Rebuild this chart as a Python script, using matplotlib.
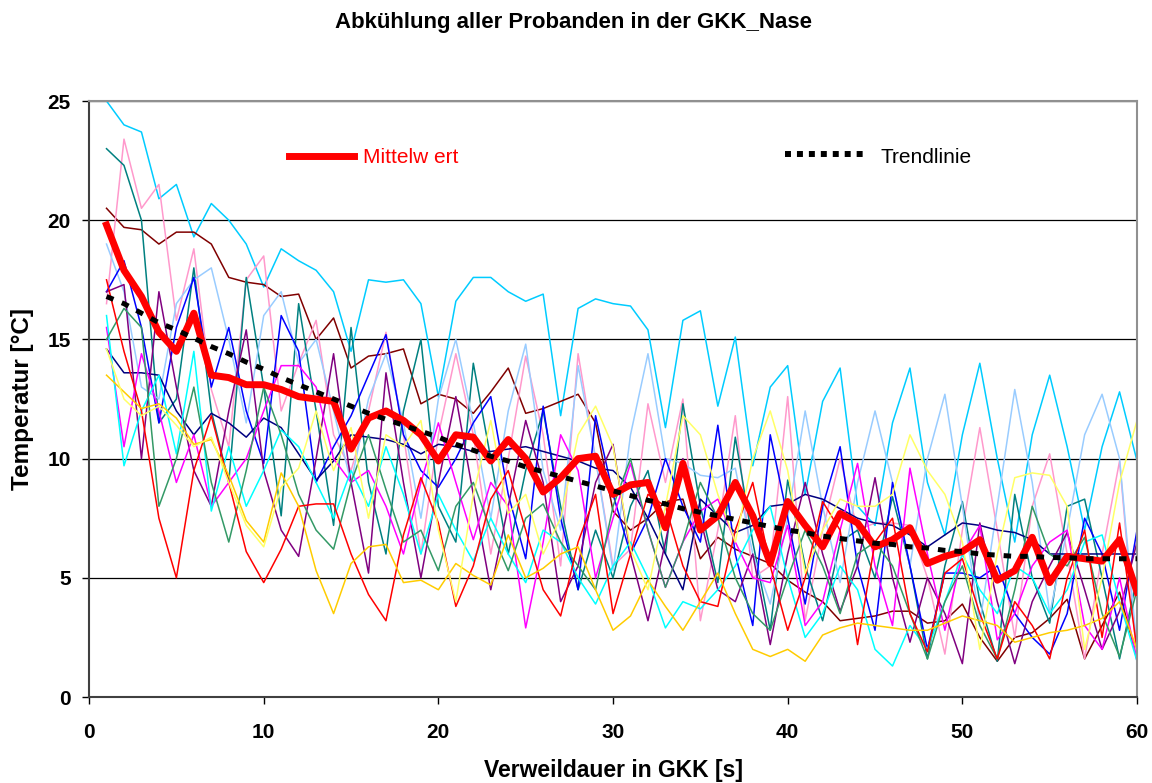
import numpy as np
import matplotlib.pyplot as plt
from matplotlib.lines import Line2D

plt.rcParams['font.family'] = ['Liberation Sans', 'DejaVu Sans']

# Zeit in Sekunden
t = np.arange(1, 61)

# Temperaturverlauf der einzelnen Probanden [°C]
skyblue = [25.0, 24.0, 23.7, 20.9, 21.5, 19.3, 20.7, 20.0, 19.0, 17.2,
           18.8, 18.3, 17.9, 17.0, 14.5, 17.5, 17.4, 17.5, 16.5, 12.6,
           16.6, 17.6, 17.6, 17.0, 16.6, 16.9, 11.8, 16.3, 16.7, 16.5,
           16.4, 15.4, 11.3, 15.8, 16.2, 12.2, 15.1, 9.7, 13.0, 13.9,
           8.5, 12.4, 13.8, 8.0, 7.2, 11.5, 13.8, 9.0, 6.8, 11.0,
           14.0, 10.0, 6.5, 11.0, 13.5, 10.5, 7.0, 10.5, 12.8, 9.9]
maroon = [20.5, 19.7, 19.6, 19.0, 19.5, 19.5, 19.0, 17.6, 17.4, 17.3,
          16.8, 16.9, 15.0, 15.9, 13.8, 14.3, 14.4, 14.6, 12.3, 12.7,
          12.5, 11.9, 12.8, 13.8, 11.9, 12.1, 12.4, 12.7, 11.5, 7.8,
          7.0, 7.5, 8.2, 8.3, 5.8, 6.7, 6.2, 5.9, 5.6, 4.9,
          4.4, 4.0, 3.2, 3.3, 3.4, 3.6, 3.6, 3.1, 3.2, 3.9,
          2.5, 1.5, 2.5, 2.7, 3.3, 4.1, 1.6, 3.0, 4.4, 1.6]
pink = [16.5, 23.4, 20.5, 21.5, 15.8, 18.8, 12.9, 10.5, 17.5, 18.5,
        12.0, 14.0, 15.8, 11.0, 9.5, 12.0, 15.3, 11.0, 6.0, 11.0,
        14.4, 11.0, 6.0, 10.0, 14.3, 11.0, 5.5, 14.4, 10.0, 5.5,
        6.2, 12.3, 9.0, 12.5, 3.2, 7.0, 11.8, 5.0, 5.5, 12.6,
        3.2, 7.0, 10.0, 7.0, 7.3, 7.3, 7.2, 5.0, 1.8, 7.0,
        11.3, 7.0, 2.5, 8.0, 10.2, 6.0, 1.6, 6.0, 9.9, 1.5]
teal = [23.0, 22.3, 20.0, 11.5, 12.5, 18.0, 12.0, 9.0, 17.6, 13.0,
        7.6, 16.5, 12.0, 7.2, 15.5, 9.0, 6.0, 12.0, 15.0, 8.0,
        6.5, 14.0, 10.0, 6.0, 9.5, 12.0, 8.0, 4.5, 7.0, 5.0,
        8.0, 9.5, 6.0, 12.3, 8.0, 4.8, 10.9, 6.5, 2.8, 9.1,
        5.5, 3.2, 6.5, 7.0, 5.0, 8.4, 5.5, 1.6, 5.5, 8.2,
        4.0, 1.5, 8.5, 5.0, 3.1, 8.0, 8.3, 5.0, 1.6, 5.0]
paleblue = [19.0, 17.0, 13.0, 12.5, 16.5, 17.5, 18.0, 15.0, 11.5, 16.0,
            17.0, 14.0, 15.0, 12.0, 9.0, 12.5, 14.4, 11.5, 7.5, 12.5,
            15.0, 11.5, 7.5, 12.0, 14.8, 9.5, 7.0, 13.9, 10.0, 5.3,
            11.0, 14.4, 10.0, 9.8, 9.3, 9.2, 9.6, 6.0, 3.9, 7.5,
            12.0, 8.0, 4.8, 9.0, 12.0, 9.0, 5.5, 10.0, 12.7, 8.0,
            3.1, 8.0, 12.9, 9.0, 3.5, 7.0, 11.0, 12.7, 10.0, 2.0]
blue = [17.0, 18.3, 15.5, 11.5, 15.5, 17.6, 13.0, 15.5, 12.0, 9.8,
        16.0, 14.5, 9.0, 10.5, 11.8, 13.5, 15.2, 11.0, 9.5, 8.8,
        10.0, 11.5, 12.6, 8.5, 5.8, 12.2, 7.5, 4.5, 11.8, 8.5,
        6.0, 7.5, 10.0, 8.0, 6.5, 11.4, 6.0, 3.0, 11.0, 7.5,
        3.9, 8.0, 10.5, 5.5, 2.8, 9.0, 5.5, 2.0, 5.2, 5.2,
        5.0, 5.5, 3.5, 2.5, 1.8, 3.5, 7.5, 6.0, 2.8, 7.0]
navy = [14.6, 13.6, 13.6, 13.5, 12.0, 11.0, 11.9, 11.5, 10.9, 11.7,
        11.3, 10.2, 9.1, 9.9, 11.0, 10.9, 10.8, 10.6, 10.2, 10.6,
        10.5, 10.3, 10.3, 10.4, 10.5, 10.3, 10.1, 9.9, 9.6, 9.5,
        8.8, 7.5, 6.0, 4.5, 8.3, 7.6, 6.9, 7.2, 8.0, 8.1,
        8.5, 8.3, 7.9, 7.5, 7.3, 7.2, 6.8, 6.3, 6.8, 7.3,
        7.2, 7.0, 6.9, 6.6, 6.0, 6.0, 6.0, 6.0, 6.0, 6.0]
purple = [17.0, 17.3, 10.0, 17.0, 13.0, 9.5, 8.0, 12.0, 15.4, 9.5,
          7.0, 5.9, 10.0, 14.4, 9.0, 5.2, 13.6, 9.0, 5.0, 9.0,
          12.6, 8.5, 4.5, 8.0, 11.6, 9.0, 4.0, 5.5, 9.0, 10.6,
          6.0, 3.2, 6.5, 10.0, 7.5, 4.5, 4.0, 6.0, 2.2, 6.0,
          9.0, 6.0, 3.6, 5.5, 9.2, 5.0, 2.3, 5.0, 3.5, 1.4,
          7.3, 4.0, 1.4, 4.0, 5.5, 6.9, 4.5, 2.0, 3.6, 6.5]
magenta = [15.5, 10.5, 14.4, 12.0, 9.0, 11.0, 8.0, 9.0, 10.0, 12.0,
           13.9, 13.9, 13.0, 10.0, 9.0, 9.5, 8.0, 6.0, 9.0, 11.5,
           9.0, 6.6, 9.0, 8.0, 2.9, 6.5, 11.0, 9.5, 5.0, 7.5,
           9.8, 7.0, 4.6, 6.5, 7.8, 8.3, 6.5, 5.0, 4.8, 7.2,
           3.0, 4.0, 7.0, 9.8, 5.5, 3.0, 9.6, 6.0, 2.8, 6.0,
           7.2, 2.4, 3.5, 5.5, 6.5, 7.0, 3.0, 2.0, 5.0, 1.5]
aqua = [16.0, 9.7, 12.0, 13.5, 10.2, 14.5, 7.8, 10.5, 8.0, 9.5,
        11.2, 10.5, 9.0, 7.5, 9.5, 8.0, 10.5, 8.5, 6.0, 8.5,
        7.0, 5.7, 7.5, 6.0, 4.8, 7.0, 6.5, 5.0, 3.9, 5.5,
        6.5, 5.0, 2.9, 4.0, 3.7, 4.5, 5.5, 7.0, 8.0, 5.0,
        2.5, 3.5, 5.5, 4.5, 2.0, 1.3, 3.0, 2.0, 4.0, 6.0,
        4.5, 3.5, 5.5, 5.0, 3.5, 4.5, 6.5, 6.8, 4.0, 1.5]
seagreen = [15.0, 16.3, 15.5, 8.0, 10.0, 13.0, 9.0, 6.5, 9.5, 13.0,
            11.0, 8.5, 7.0, 6.2, 9.0, 11.0, 8.7, 6.5, 7.0, 5.3,
            8.0, 9.0, 7.0, 5.3, 7.5, 8.1, 6.5, 5.5, 4.5, 8.0,
            10.0, 7.0, 4.6, 6.5, 9.0, 7.5, 5.0, 3.5, 2.8, 5.0,
            7.0, 5.5, 3.5, 6.0, 6.5, 5.5, 3.5, 1.6, 4.0, 5.5,
            3.0, 1.6, 4.5, 8.0, 6.0, 5.5, 6.7, 3.5, 1.7, 4.5]
red = [17.5, 14.5, 12.0, 7.5, 5.0, 9.5, 11.8, 9.0, 6.1, 4.8,
       6.2, 8.0, 8.1, 8.1, 6.0, 4.3, 3.2, 6.8, 9.2, 7.3,
       3.8, 5.5, 8.3, 9.5, 7.0, 4.5, 3.4, 6.5, 8.5, 3.5,
       6.0, 8.5, 8.0, 5.5, 4.0, 3.8, 7.0, 9.0, 5.5, 2.8,
       5.0, 8.2, 7.0, 2.2, 6.5, 7.5, 3.5, 1.9, 5.2, 5.8,
       3.5, 1.6, 4.0, 3.0, 1.6, 5.0, 7.0, 2.5, 7.3, 2.0]
gold = [13.5, 12.8, 12.1, 12.3, 11.7, 10.6, 10.8, 9.3, 7.4, 6.5,
        9.4, 8.0, 5.3, 3.5, 5.6, 6.3, 6.4, 4.8, 4.9, 4.5,
        5.6, 5.1, 4.7, 6.8, 5.0, 5.4, 6.0, 6.3, 4.5, 2.8,
        3.4, 4.9, 3.8, 2.8, 4.0, 5.2, 3.5, 2.0, 1.7, 2.0,
        1.5, 2.6, 2.9, 3.1, 3.0, 2.9, 2.8, 2.8, 3.1, 3.4,
        3.2, 3.0, 2.3, 2.5, 2.7, 2.8, 3.0, 3.3, 4.0, 2.0]
paleyellow = [14.6, 12.5, 11.8, 12.2, 11.4, 10.5, 10.9, 9.0, 7.2, 6.3,
              8.8, 9.6, 12.0, 9.5, 11.3, 7.5, 11.0, 10.5, 11.6, 7.0,
              4.0, 8.5, 11.6, 7.7, 8.5, 6.0, 7.5, 11.0, 12.2, 10.5,
              6.2, 4.5, 8.0, 11.8, 11.0, 8.5, 6.5, 10.0, 12.0, 9.5,
              5.2, 7.0, 8.3, 8.0, 8.0, 8.5, 11.0, 9.5, 8.5, 6.5,
              2.0, 6.0, 9.2, 9.4, 9.3, 8.0, 2.0, 5.0, 9.0, 11.6]

probanden = [
    (skyblue, '#00CCFF'), (maroon, '#800000'), (pink, '#FF99CC'),
    (teal, '#008080'), (paleblue, '#99CCFF'), (blue, '#0000FF'),
    (navy, '#000080'), (purple, '#800080'), (magenta, '#FF00FF'),
    (aqua, '#00FFFF'), (seagreen, '#339966'), (red, '#FF0000'),
    (gold, '#FFCC00'), (paleyellow, '#FFFF66'),
]

# Mittelwert und Trendlinie
mittelwert = [19.8, 17.9, 16.8, 15.3, 14.5, 16.1, 13.5, 13.4, 13.1, 13.1,
              12.9, 12.6, 12.5, 12.4, 10.4, 11.7, 12.0, 11.6, 11.0, 9.9,
              11.0, 10.9, 9.9, 10.8, 10.0, 8.6, 9.2, 10.0, 10.1, 8.5,
              8.9, 9.0, 7.1, 9.8, 7.0, 7.6, 9.0, 7.6, 5.6, 8.2,
              7.2, 6.3, 7.7, 7.3, 6.3, 6.6, 7.1, 5.6, 5.9, 6.1,
              6.6, 4.9, 5.3, 6.7, 4.8, 5.9, 5.8, 5.7, 6.6, 4.4]
trend = [16.8, 16.5, 16.1, 15.7, 15.4, 15.05, 14.7, 14.4, 14.05, 13.75,
         13.4, 13.1, 12.8, 12.5, 12.2, 11.9, 11.65, 11.4, 11.15, 10.9,
         10.6, 10.35, 10.1, 9.9, 9.65, 9.45, 9.25, 9.05, 8.85, 8.65,
         8.45, 8.25, 8.1, 7.9, 7.75, 7.6, 7.45, 7.3, 7.15, 7.0,
         6.9, 6.75, 6.65, 6.55, 6.45, 6.4, 6.3, 6.25, 6.15, 6.1,
         6.0, 5.95, 5.9, 5.9, 5.85, 5.85, 5.8, 5.8, 5.8, 5.8]

fig = plt.figure(figsize=(11.52, 7.83), dpi=100)
ax = fig.add_axes([0.0773, 0.1098, 0.9097, 0.7612])

for werte, farbe in probanden:
    ax.plot(t, werte, color=farbe, lw=1.1, solid_joinstyle='round')

ax.plot(t, mittelwert, color='#FF0000', lw=5, solid_joinstyle='round', zorder=5)
ax.plot(t, trend, color='black', lw=3.6, linestyle=(0, (1.5, 1.8)), zorder=6)

ax.set_xlim(0, 60)
ax.set_ylim(0, 25)
ax.set_xticks(range(0, 61, 10))
ax.set_yticks(range(0, 26, 5))
ax.yaxis.grid(True, color='black', lw=0.9)
ax.set_axisbelow(True)
ax.tick_params(direction='out', length=5, width=1, colors='black', labelsize=15)
ax.tick_params(axis='y', pad=8)
ax.tick_params(axis='x', pad=14)
for lab in ax.get_xticklabels() + ax.get_yticklabels():
    lab.set_fontweight('bold')
for s in ['top', 'right']:
    ax.spines[s].set_color('#909090')
    ax.spines[s].set_linewidth(1.5)
for s in ['left', 'bottom']:
    ax.spines[s].set_color('#404040')
    ax.spines[s].set_linewidth(1.5)

ax.set_xlabel('Verweildauer in GKK [s]', fontsize=16.5, fontweight='bold', labelpad=12)
ax.set_ylabel('Temperatur [°C]', fontsize=17.5, fontweight='bold', labelpad=10)
fig.text(0.498, 0.971, 'Abkühlung aller Probanden in der GKK_Nase', ha='center', va='center',
         fontsize=16, fontweight='bold')

# Legendeneinträge im Diagramm
ax.add_line(Line2D([0.191, 0.253], [0.908, 0.908], transform=ax.transAxes,
                   color='#FF0000', lw=5, zorder=7))
ax.text(0.261, 0.906, 'Mittelw ert', transform=ax.transAxes, color='#FF0000',
        fontsize=15, va='center')
ax.add_line(Line2D([0.664, 0.740], [0.911, 0.911], transform=ax.transAxes,
                   color='black', lw=4.3, linestyle=(0, (1, 1)), zorder=7))
ax.text(0.755, 0.906, 'Trendlinie', transform=ax.transAxes, color='black',
        fontsize=15, va='center')

fig.savefig('out.png', dpi=100)
